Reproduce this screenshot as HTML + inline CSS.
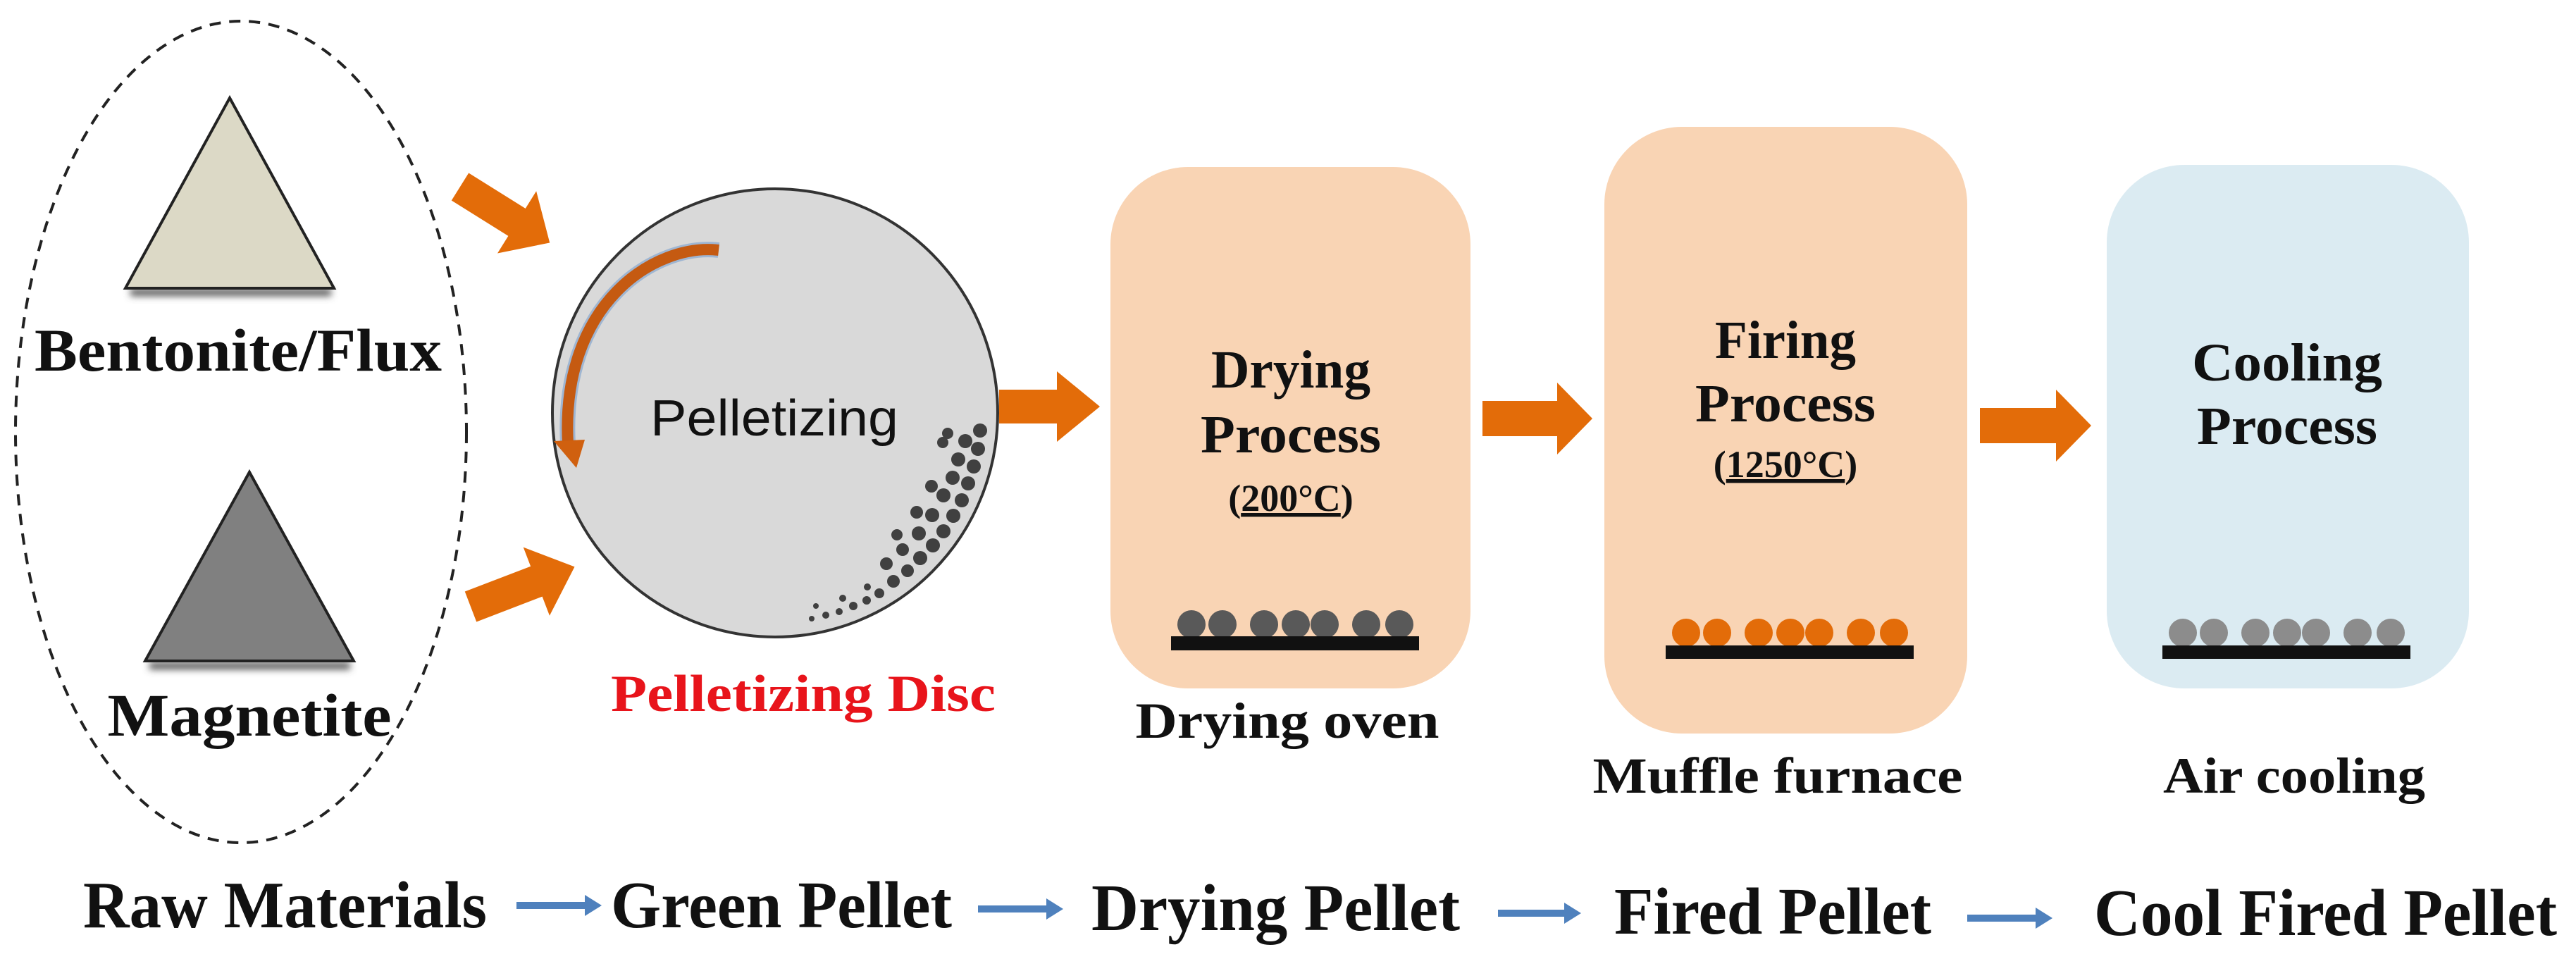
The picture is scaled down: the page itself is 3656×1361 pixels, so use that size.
<!DOCTYPE html>
<html><head><meta charset="utf-8"><style>
html,body{margin:0;padding:0;background:#fff}
svg{display:block}
.s{font-family:"Liberation Serif",serif;font-weight:bold;fill:#111}
</style></head><body>
<svg width="3656" height="1361" viewBox="0 0 3656 1361" xmlns="http://www.w3.org/2000/svg">
<defs>
<filter id="bl" x="-20%" y="-200%" width="140%" height="500%"><feGaussianBlur stdDeviation="5"/></filter>
</defs>
<ellipse cx="342" cy="613" rx="320" ry="583" fill="none" stroke="#222" stroke-width="4" stroke-dasharray="16,12"/>
<rect x="185" y="410" width="285" height="10" fill="#555" filter="url(#bl)"/>
<polygon points="326,139 474,409 178,409" fill="#dcd9c6" stroke="#222" stroke-width="4"/>
<rect x="212" y="940" width="285" height="10" fill="#555" filter="url(#bl)"/>
<polygon points="354,670 502,938 206,938" fill="#808080" stroke="#222" stroke-width="4"/>
<text class="s" x="338" y="526" font-size="86" text-anchor="middle" textLength="578" lengthAdjust="spacingAndGlyphs">Bentonite/Flux</text>
<text class="s" x="354" y="1044" font-size="86" text-anchor="middle" textLength="403" lengthAdjust="spacingAndGlyphs">Magnetite</text>
<g fill="#e36c09">
<path transform="translate(653,265) rotate(32)" d="M0,-23 L95,-23 L95,-52 L150,0 L95,52 L95,23 L0,23 Z"/>
<path transform="translate(668,861) rotate(-21)" d="M0,-23 L100,-23 L100,-52 L158,0 L100,52 L100,23 L0,23 Z"/>
</g>
<ellipse cx="1100" cy="586" rx="316" ry="318" fill="#d9d9d9" stroke="#333" stroke-width="4"/>
<path d="M1020,355 C930,345 795,430 806,630" fill="none" stroke="#9fb6d2" stroke-width="22"/>
<path d="M1020,355 C930,345 795,430 806,630" fill="none" stroke="#c55a11" stroke-width="16"/>
<polygon points="786,626 830,624 818,664" fill="#d0600f"/>
<text x="1099" y="618" font-family="Liberation Sans, sans-serif" font-size="72" text-anchor="middle" fill="#111" textLength="352" lengthAdjust="spacingAndGlyphs">Pelletizing</text>
<g fill="#404040">
<circle cx="1391" cy="611" r="10"/><circle cx="1388" cy="637" r="10"/><circle cx="1382" cy="662" r="10"/><circle cx="1374" cy="686" r="10"/><circle cx="1365" cy="710" r="10"/><circle cx="1353" cy="732" r="10"/><circle cx="1339" cy="754" r="10"/><circle cx="1324" cy="774" r="10"/><circle cx="1306" cy="792" r="10"/><circle cx="1288" cy="810" r="9"/><circle cx="1268" cy="825" r="9"/>
<circle cx="1370" cy="626" r="10"/><circle cx="1360" cy="652" r="10"/><circle cx="1352" cy="678" r="10"/><circle cx="1339" cy="703" r="10"/><circle cx="1323" cy="731" r="10"/><circle cx="1304" cy="757" r="10"/><circle cx="1281" cy="780" r="9"/><circle cx="1258" cy="800" r="9"/>
<circle cx="1345" cy="615" r="8"/><circle cx="1338" cy="628" r="8"/><circle cx="1322" cy="690" r="9"/><circle cx="1301" cy="727" r="9"/><circle cx="1273" cy="759" r="8"/>
<circle cx="1248" cy="842" r="7"/><circle cx="1230" cy="852" r="6"/><circle cx="1211" cy="860" r="6"/><circle cx="1191" cy="868" r="5"/><circle cx="1172" cy="873" r="5"/><circle cx="1152" cy="878" r="4"/>
<circle cx="1231" cy="833" r="5"/><circle cx="1196" cy="849" r="5"/><circle cx="1158" cy="860" r="4"/>
</g>
<text x="1140" y="1009" font-family="Liberation Serif, serif" font-weight="bold" font-size="74" text-anchor="middle" fill="#e8141b" textLength="546" lengthAdjust="spacingAndGlyphs">Pelletizing  Disc</text>
<g fill="#e36c09">
<path d="M1418,553 L1500,553 L1500,527 L1561,577 L1500,627 L1500,601 L1418,601 Z"/>
<path d="M2104,569 L2210,569 L2210,543 L2260,594 L2210,645 L2210,619 L2104,619 Z"/>
<path d="M2810,579 L2918,579 L2918,553 L2968,604 L2918,655 L2918,629 L2810,629 Z"/>
</g>
<rect x="1576" y="237" width="511" height="740" rx="110" fill="#f9d4b4"/>
<rect x="2277" y="180" width="515" height="861" rx="110" fill="#f9d4b4"/>
<rect x="2990" y="234" width="514" height="743" rx="110" fill="#dbebf2"/>
<text class="s" x="1832" y="550" font-size="76" text-anchor="middle" textLength="226" lengthAdjust="spacingAndGlyphs">Drying</text>
<text class="s" x="1832" y="642" font-size="76" text-anchor="middle" textLength="256" lengthAdjust="spacingAndGlyphs">Process</text>
<text class="s" x="1832" y="725" font-size="54" text-anchor="middle">(<tspan text-decoration="underline">200°C</tspan>)</text>
<text class="s" x="2534" y="508" font-size="76" text-anchor="middle" textLength="200" lengthAdjust="spacingAndGlyphs">Firing</text>
<text class="s" x="2534" y="598" font-size="76" text-anchor="middle" textLength="256" lengthAdjust="spacingAndGlyphs">Process</text>
<text class="s" x="2534" y="677" font-size="54" text-anchor="middle">(<tspan text-decoration="underline">1250°C</tspan>)</text>
<text class="s" x="3246" y="540" font-size="76" text-anchor="middle" textLength="270" lengthAdjust="spacingAndGlyphs">Cooling</text>
<text class="s" x="3246" y="630" font-size="76" text-anchor="middle" textLength="256" lengthAdjust="spacingAndGlyphs">Process</text>
<g fill="#595959">
<circle cx="1691" cy="886" r="20"/><circle cx="1735" cy="886" r="20"/><circle cx="1794" cy="886" r="20"/><circle cx="1839" cy="886" r="20"/><circle cx="1880" cy="886" r="20"/><circle cx="1939" cy="886" r="20"/><circle cx="1986" cy="886" r="20"/>
</g>
<rect x="1662" y="903" width="352" height="20" fill="#111"/>
<g fill="#e36c09">
<circle cx="2393" cy="898" r="20"/><circle cx="2437" cy="898" r="20"/><circle cx="2496" cy="898" r="20"/><circle cx="2541" cy="898" r="20"/><circle cx="2582" cy="898" r="20"/><circle cx="2641" cy="898" r="20"/><circle cx="2688" cy="898" r="20"/>
</g>
<rect x="2364" y="916" width="352" height="19" fill="#111"/>
<g fill="#8c8c8c">
<circle cx="3098" cy="898" r="20"/><circle cx="3142" cy="898" r="20"/><circle cx="3201" cy="898" r="20"/><circle cx="3246" cy="898" r="20"/><circle cx="3287" cy="898" r="20"/><circle cx="3346" cy="898" r="20"/><circle cx="3393" cy="898" r="20"/>
</g>
<rect x="3069" y="916" width="352" height="19" fill="#111"/>
<text class="s" x="1827" y="1047" font-size="72" text-anchor="middle" textLength="431" lengthAdjust="spacingAndGlyphs">Drying oven</text>
<text class="s" x="2523" y="1125" font-size="72" text-anchor="middle" textLength="525" lengthAdjust="spacingAndGlyphs">Muffle furnace</text>
<text class="s" x="3256" y="1125" font-size="72" text-anchor="middle" textLength="372" lengthAdjust="spacingAndGlyphs">Air cooling</text>
<text class="s" x="118" y="1316" font-size="94" textLength="573" lengthAdjust="spacingAndGlyphs">Raw Materials</text>
<text class="s" x="867" y="1316" font-size="94" textLength="484" lengthAdjust="spacingAndGlyphs">Green Pellet</text>
<text class="s" x="1549" y="1320" font-size="94" textLength="523" lengthAdjust="spacingAndGlyphs">Drying Pellet</text>
<text class="s" x="2291" y="1325" font-size="94" textLength="450" lengthAdjust="spacingAndGlyphs">Fired Pellet</text>
<text class="s" x="2972" y="1327" font-size="94" textLength="657" lengthAdjust="spacingAndGlyphs">Cool Fired Pellet</text>
<g fill="#4f81bd">
<path d="M733,1280 L830,1280 L830,1270 L854,1285 L830,1300 L830,1290 L733,1290 Z"/>
<path d="M1388,1285 L1485,1285 L1485,1275 L1509,1290 L1485,1305 L1485,1295 L1388,1295 Z"/>
<path d="M2126,1291 L2220,1291 L2220,1281 L2244,1296 L2220,1311 L2220,1301 L2126,1301 Z"/>
<path d="M2792,1298 L2889,1298 L2889,1288 L2913,1303 L2889,1318 L2889,1308 L2792,1308 Z"/>
</g>
</svg>
</body></html>
